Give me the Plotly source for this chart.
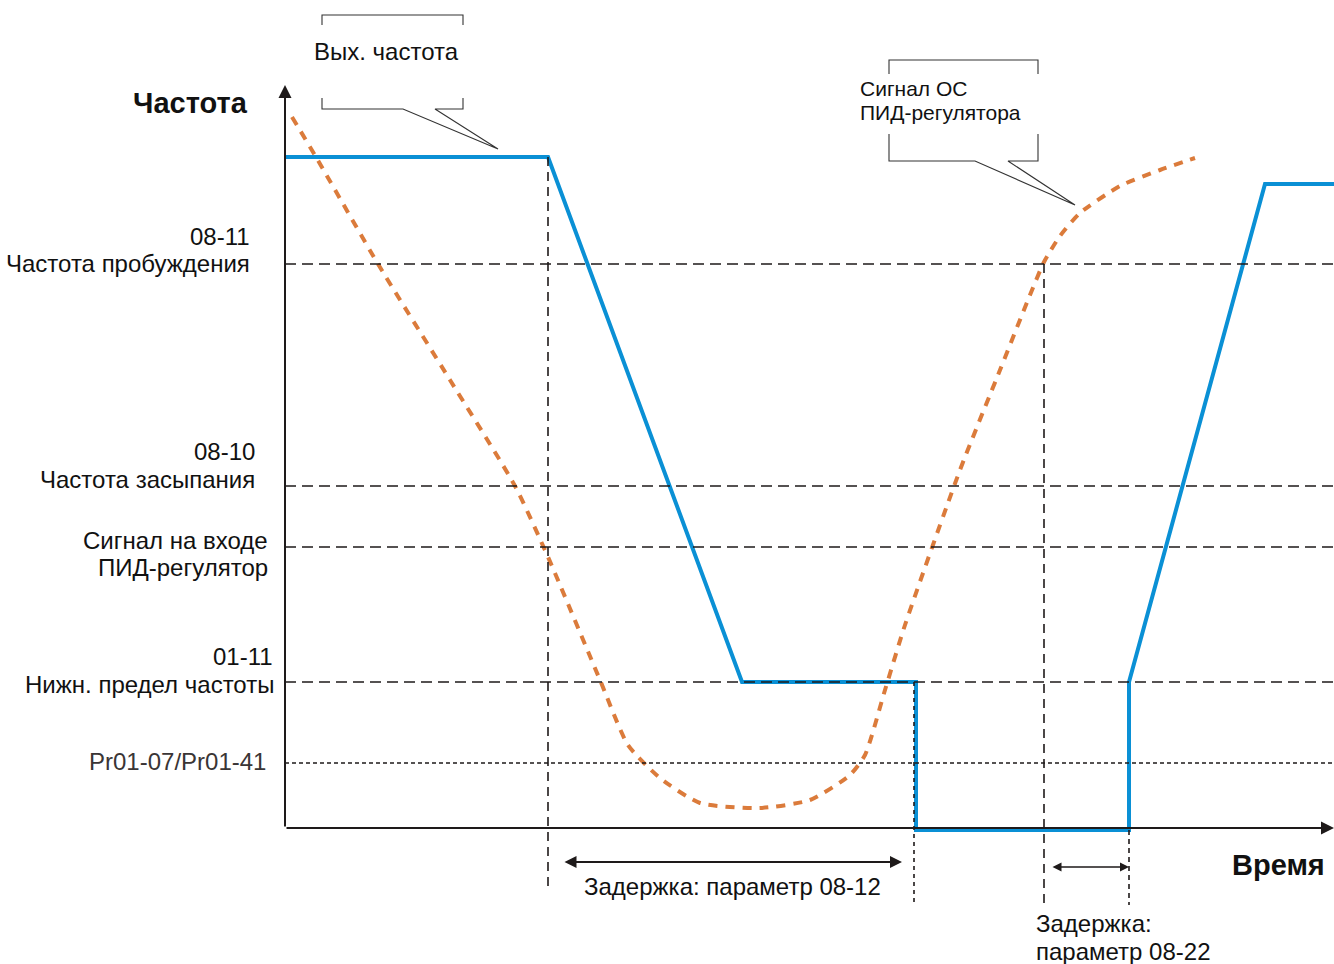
import plotly.graph_objects as go

W, H = 1334, 964
FONT = "Liberation Sans, Arial, sans-serif"
BLUE = "#0A90D5"
ORANGE = "#DB7B3B"
BLACK = "#1E1A1A"

# ---- data (diagram space: x = time, y = level, screen-like units) ----
out_t = [285, 548, 742, 916, 916, 1129, 1129, 1265, 1334]
out_f = [157, 157, 682, 682, 830, 830, 682, 184, 184]

pid_t = [292, 316, 378, 450, 515, 548, 600, 628, 660, 700, 760, 810, 850, 865,
         885, 905, 960, 1000, 1030, 1044, 1060, 1080, 1120, 1160, 1195]
pid_f = [117, 157, 264, 380, 486, 557, 680, 745, 778, 803, 808, 800, 775, 755,
         690, 625, 470, 370, 295, 262, 236, 213, 186, 170, 158]

level_names = ["wake", "sleep", "pid_in", "lower", "min"]
level_y = [264, 486, 547, 682, 763]
level_dash = ["11px,6px", "11px,6px", "11px,6px", "11px,6px", "4px,3px"]

vmark_x = [548, 914, 1044, 1129]
vmark_y0 = [157, 682, 264, 830]
vmark_y1 = [890, 902, 905, 905]
vmark_dash = ["9px,6px", "4px,4px", "9px,6px", "5px,4px"]

axis_origin = (285, 828)
axis_top = 85
axis_right = 1334

# callout polylines
call1_top = ([322, 322, 463, 463], [25, 15, 15, 25])
call1_bot = ([322, 322, 403, 498, 435, 463, 463], [98, 109, 109, 149, 109, 109, 98])
call2_top = ([889, 889, 1038, 1038], [74, 60, 60, 74])
call2_bot = ([889, 889, 975, 1075, 1008, 1038, 1038], [134, 161, 161, 205, 161, 161, 134])

fig = go.Figure()

# horizontal reference levels
for y, d in zip(level_y, level_dash):
    fig.add_shape(type="line", x0=axis_origin[0], x1=axis_right, y0=y, y1=y,
                  line=dict(color=BLACK, width=1.6 if d != "4px,3px" else 1.3, dash=d))
# vertical markers
for x, y0, y1, d in zip(vmark_x, vmark_y0, vmark_y1, vmark_dash):
    fig.add_shape(type="line", x0=x, x1=x, y0=y0, y1=y1,
                  line=dict(color=BLACK, width=1.6, dash=d))

# callouts
for xs, ys in [call1_top, call1_bot, call2_top, call2_bot]:
    fig.add_trace(go.Scatter(x=xs, y=ys, mode="lines",
                             line=dict(color="#333333", width=1.1),
                             hoverinfo="skip", showlegend=False))

# PID feedback (orange dashed)
fig.add_trace(go.Scatter(x=pid_t, y=pid_f, mode="lines",
                         line=dict(color=ORANGE, width=4, dash="9px,8px", shape="spline", smoothing=0.6),
                         hoverinfo="skip", showlegend=False))
# Output frequency (blue)
fig.add_trace(go.Scatter(x=out_t, y=out_f, mode="lines",
                         line=dict(color=BLUE, width=4),
                         hoverinfo="skip", showlegend=False))

ann = []
# axes with arrows
ann.append(dict(x=axis_origin[0], y=axis_top, ax=axis_origin[0], ay=axis_origin[1],
                xref="x", yref="y", axref="x", ayref="y", showarrow=True,
                arrowhead=2, arrowsize=1.3, arrowwidth=2, arrowcolor=BLACK, text=""))
ann.append(dict(x=axis_right, y=axis_origin[1], ax=axis_origin[0], ay=axis_origin[1],
                xref="x", yref="y", axref="x", ayref="y", showarrow=True,
                arrowhead=2, arrowsize=1.3, arrowwidth=2, arrowcolor=BLACK, text=""))
# delay arrows
ann.append(dict(x=902, y=862, ax=563, ay=862, xref="x", yref="y", axref="x", ayref="y",
                showarrow=True, arrowhead=2, startarrowhead=2, arrowside="end+start",
                arrowsize=1.2, arrowwidth=2, arrowcolor=BLACK, text=""))
ann.append(dict(x=1129, y=867, ax=1051, ay=867, xref="x", yref="y", axref="x", ayref="y",
                showarrow=True, arrowhead=2, startarrowhead=2, arrowside="end+start",
                arrowsize=1.2, arrowwidth=1.5, arrowcolor=BLACK, text=""))


def txt(x, y, s, anchor="right", size=24, bold=False, color="#111111"):
    if bold:
        s = "<b>" + s + "</b>"
    ann.append(dict(x=x, y=y, xref="x", yref="y", text=s, showarrow=False,
                    xanchor=anchor, yanchor="middle",
                    font=dict(family=FONT, size=size, color=color)))


txt(250, 103, "Частота", size=29, bold=True)
txt(252, 236, "08-11")
txt(252, 263, "Частота пробуждения")
txt(257, 451, "08-10")
txt(257, 479, "Частота засыпания")
txt(270, 540, "Сигнал на входе")
txt(270, 567, "ПИД-регулятор")
txt(275, 656, "01-11")
txt(276, 684, "Нижн. предел частоты")
txt(268, 761, "Pr01-07/Pr01-41", color="#3A3535")
txt(1327, 865, "Время", size=29, bold=True)
txt(386, 51, "Вых. частота", anchor="center")
txt(858, 88, "Сигнал ОС", anchor="left", size=21)
txt(858, 112, "ПИД-регулятора", anchor="left", size=21)
txt(732, 886, "Задержка: параметр 08-12", anchor="center")
txt(1034, 923, "Задержка:", anchor="left")
txt(1034, 951, "параметр 08-22", anchor="left")

fig.update_layout(
    width=W, height=H, margin=dict(l=0, r=0, t=0, b=0),
    paper_bgcolor="white", plot_bgcolor="white",
    xaxis=dict(range=[0, W], visible=False, fixedrange=True),
    yaxis=dict(range=[H, 0], visible=False, fixedrange=True),
    annotations=ann, showlegend=False,
)

fig.write_html(
    "out.html",
    config={"displayModeBar": False},
    post_script="document.body.style.margin='0';document.body.style.overflow='hidden';",
)
